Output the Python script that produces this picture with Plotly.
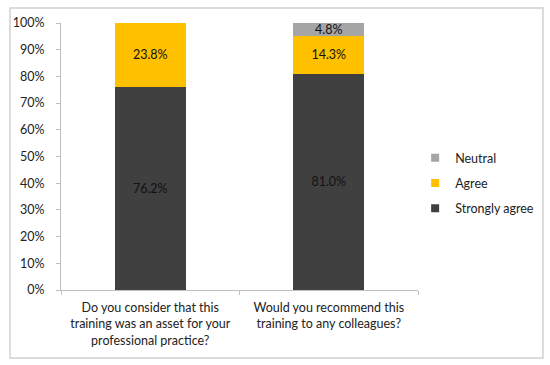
import plotly.graph_objects as go

categories = ["Do you consider that this<br>training was an asset for your<br>professional practice?",
              "Would you recommend this<br>training to any colleagues?"]
strongly_agree = [76.2, 81.0]
agree = [23.8, 14.3]
neutral = [None, 4.8]

series = [("Strongly agree", strongly_agree, "#404040", 3),
          ("Agree", agree, "#ffc000", 2),
          ("Neutral", neutral, "#a5a5a5", 1)]

FONT = "Lato, Carlito, Calibri, sans-serif"
fig = go.Figure()
for name, vals, color, rank in series:
    fig.add_trace(go.Bar(
        x=categories, y=[v / 100 if v is not None else None for v in vals], name=name,
        marker=dict(color=color, line=dict(width=0)),
        text=[f"{v:.1f}%" if v is not None else "" for v in vals],
        textposition="inside", insidetextanchor="middle",
        textfont=dict(color="#111111", size=12.5, family=FONT),
        showlegend=False,
    ))
for name, vals, color, rank in series:
    fig.add_trace(go.Scatter(
        x=[None], y=[None], mode="markers", name=name,
        marker=dict(symbol="square", size=8, color=color),
        legendgroup=name, legendrank=rank, showlegend=True,
    ))

fig.update_layout(
    barmode="stack", bargap=0.6,
    width=550, height=365,
    margin=dict(l=61, r=132, t=23, b=75, autoexpand=False),
    plot_bgcolor="white", paper_bgcolor="white",
    font=dict(family=FONT, size=12, color="#222222"),
    uniformtext=dict(mode="show", minsize=8),
    legend=dict(x=0.992, y=0.40, xanchor="left", yanchor="middle",
                bgcolor="rgba(0,0,0,0)",
                font=dict(size=12.5, family=FONT), tracegroupgap=6, itemwidth=30),
)
fig.update_yaxes(range=[0, 1], tickvals=[i / 10 for i in range(11)], tickformat=".0%",
                 showgrid=False, showline=True, linecolor="#bfbfbf", linewidth=1,
                 ticks="outside", ticklen=4, tickcolor="#bfbfbf", zeroline=False,
                 ticklabelstandoff=9, automargin=False,
                 tickfont=dict(size=12.5, family=FONT, color="#222222"))
fig.update_xaxes(showgrid=False, showline=True, linecolor="#bfbfbf", linewidth=1,
                 ticks="outside", ticklen=4, tickcolor="#bfbfbf", tickson="boundaries",
                 ticklabelstandoff=6, tickangle=0, automargin=False,
                 tickfont=dict(size=12.5, family=FONT, color="#222222"))
fig.add_shape(type="rect", xref="paper", yref="paper",
              x0=-0.1429, x1=1.350, y0=-0.2547, y1=1.056,
              line=dict(color="#d0d0d0", width=1.5), fillcolor="rgba(0,0,0,0)", layer="below")
fig.write_html("out.html", config={"displayModeBar": False},
               post_script="document.body.style.margin='0';document.body.style.overflow='hidden';")
